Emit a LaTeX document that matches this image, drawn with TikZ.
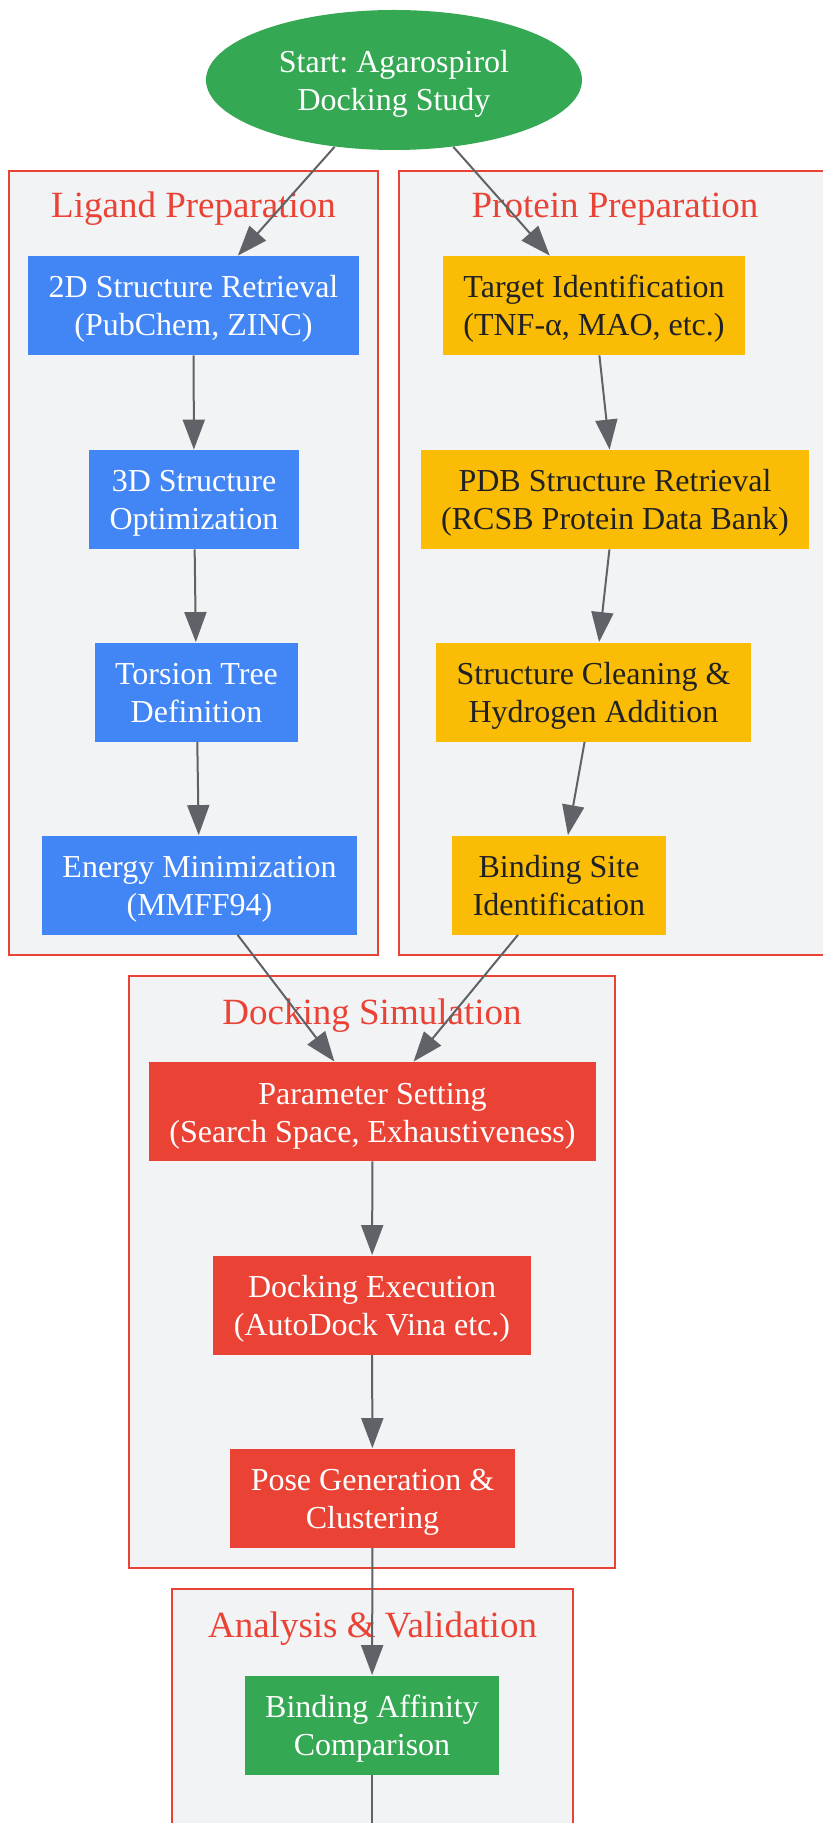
\documentclass[tikz,border=0pt]{standalone}
\usepackage{fontspec}
\setmainfont{Liberation Serif}
\frenchspacing
\usetikzlibrary{shapes.geometric,arrows.meta}
\definecolor{gblue}{HTML}{4285F4}
\definecolor{gred}{HTML}{EA4335}
\definecolor{gyellow}{HTML}{FBBC05}
\definecolor{ggreen}{HTML}{34A853}
\definecolor{ggrey}{HTML}{5F6368}
\definecolor{gpanel}{HTML}{F1F3F4}
\definecolor{gdark}{HTML}{202124}
\newcommand{\twoline}[2]{\rule{0pt}{17.2pt}#1\\#2\strut}
\tikzset{
	txt/.style={align=center,font=\fontsize{16}{19}\selectfont},
	box/.style={txt,rectangle,inner xsep=10.25pt,inner ysep=0pt,minimum height=49.5pt},
	bbox/.style={box,fill=gblue,text=white},
	ybox/.style={box,fill=gyellow,text=gdark},
	rbox/.style={box,fill=gred,text=white},
	gbox/.style={box,fill=ggreen,text=white},
	startnode/.style={txt,ellipse,fill=ggreen,text=white,inner sep=0pt,minimum width=188pt,minimum height=70pt},
	panel/.style={draw=gred,fill=gpanel,line width=1pt},
	ptitle/.style={anchor=base,text=gred,font=\fontsize{18.5}{22}\selectfont},
	link/.style={draw=ggrey,line width=1pt,-{Triangle[length=15pt,width=11pt]}}
}
\begin{document}
\begin{tikzpicture}[x=0.5pt,y=-0.5pt]
						\useasboundingbox (0,0) rectangle (823,1823);
						\clip (0,0) rectangle (823,1823);

						\draw [panel] (9,171) rectangle (378,955);
						\draw [panel] (399,171) rectangle (831,955);
						\draw [panel] (129,976) rectangle (615,1568);
						\draw [panel] (172,1589) rectangle (573,1900);
						\node [ptitle] (tlig) at (193.5,218) {Ligand Preparation};
						\node [ptitle] (tpro) at (615,218) {Protein Preparation};
						\node [ptitle] (tdock) at (372,1024) {Docking Simulation};
						\node [ptitle] (tana) at (372.5,1637) {Analysis \& Validation};

						\node [startnode] (start) at (394,80) {\twoline{Start: Agarospirol}{Docking Study}};

						\node [bbox] (lig1) at (193.5,305.5) {\twoline{2D Structure Retrieval}{(PubChem, ZINC)}};
						\node [bbox] (lig2) at (194,499.5) {\twoline{3D Structure}{Optimization}};
						\node [bbox] (lig3) at (196.5,692) {\twoline{Torsion Tree}{Definition}};
						\node [bbox] (lig4) at (199.5,885) {\twoline{Energy Minimization}{(MMFF94)}};

						\node [ybox] (pro1) at (594,305.5) {\twoline{Target Identification}{(TNF-α, MAO, etc.)}};
						\node [ybox] (pro2) at (615,499.5) {\twoline{PDB Structure Retrieval}{(RCSB Protein Data Bank)}};
						\node [ybox] (pro3) at (593.5,692) {\twoline{Structure Cleaning \&}{Hydrogen Addition}};
						\node [ybox] (pro4) at (559,885) {\twoline{Binding Site}{Identification}};

						\node [rbox] (dock1) at (372.5,1111.5) {\twoline{Parameter Setting}{(Search Space, Exhaustiveness)}};
						\node [rbox] (dock2) at (372,1305) {\twoline{Docking Execution}{(AutoDock Vina etc.)}};
						\node [rbox] (dock3) at (372.5,1498) {\twoline{Pose Generation \&}{Clustering}};

						\node [gbox] (ana1) at (372,1725) {\twoline{Binding Affinity}{Comparison}};
						\coordinate (off) at (372,1900);

						\draw [link] (start) -- (lig1);
						\draw [link] (start) -- (pro1);
						\draw [link] (lig1) -- (lig2);
						\draw [link] (lig2) -- (lig3);
						\draw [link] (lig3) -- (lig4);
						\draw [link] (pro1) -- (pro2);
						\draw [link] (pro2) -- (pro3);
						\draw [link] (pro3) -- (pro4);
						\draw [link] (lig4) -- (dock1);
						\draw [link] (pro4) -- (dock1);
						\draw [link] (dock1) -- (dock2);
						\draw [link] (dock2) -- (dock3);
						\draw [link] (dock3) -- (ana1);
						\draw [link,-] (ana1) -- (off);
					\end{tikzpicture}
\end{document}
